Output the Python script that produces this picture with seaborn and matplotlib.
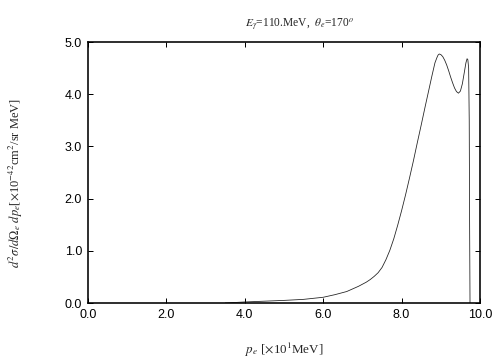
import matplotlib
matplotlib.use("Agg")
import matplotlib.pyplot as plt
import seaborn as sns

# electron momentum [x10 MeV] and cross section [1e-42 cm^2/sr MeV]
p_e = [3.5, 4.0, 4.5, 5.0, 5.5, 6.0, 6.3, 6.6, 6.9, 7.1, 7.2, 7.3, 7.4,
       7.5, 7.6, 7.7, 7.8, 7.9, 8.0, 8.1, 8.2, 8.3, 8.4, 8.5, 8.6, 8.7,
       8.77, 8.85, 8.9, 8.93, 8.96, 9.0, 9.05, 9.1, 9.15, 9.2, 9.25, 9.3,
       9.35, 9.4, 9.45, 9.5, 9.55, 9.6, 9.64, 9.67, 9.69, 9.71, 9.725,
       9.735, 9.745]
sigma = [0.0, 0.02, 0.035, 0.05, 0.07, 0.11, 0.16, 0.22, 0.32, 0.40, 0.45,
         0.51, 0.58, 0.68, 0.83, 1.01, 1.23, 1.49, 1.77, 2.07, 2.39, 2.72,
         3.07, 3.41, 3.76, 4.10, 4.34, 4.60, 4.70, 4.75, 4.77, 4.76, 4.72,
         4.65, 4.56, 4.45, 4.33, 4.22, 4.12, 4.05, 4.02, 4.06, 4.20, 4.42,
         4.60, 4.68, 4.66, 4.50, 3.5, 1.5, 0.0]

xticks = [0, 2, 4, 6, 8, 10]
yticks = [0, 1, 2, 3, 4, 5]

sns.set_theme(style="ticks")
plt.rcParams["font.family"] = ["Liberation Sans", "DejaVu Sans"]
plt.rcParams["mathtext.fontset"] = "stix"

fig = plt.figure(figsize=(7, 5), dpi=72)
ax = fig.add_axes([0.1746, 0.1583, 0.7778, 0.725])

sns.lineplot(x=p_e, y=sigma, ax=ax, color="#222222", linewidth=0.8)

ax.set_xlim(0, 10)
ax.set_ylim(0, 5)
ax.set_xticks(xticks)
ax.set_yticks(yticks)
ax.set_xticklabels([f"{v:.1f}" for v in xticks])
ax.set_yticklabels([f"{v:.1f}" for v in yticks])
ax.tick_params(direction="in", top=True, right=True, length=5, width=1,
               labelsize=12.5, colors="black", pad=6)
for s in ax.spines.values():
    s.set_linewidth(1.6)
    s.set_color("black")

serif = ["Liberation Serif", "DejaVu Serif"]
ax.set_title(r"$E_\gamma$=110.MeV,  $\theta_e$=170$^o$", fontsize=11.5,
             family=serif, x=0.54, pad=16)
ax.set_xlabel(r"$p_e$ [$\times$10$^1$MeV]", fontsize=13, family=serif,
              labelpad=20)
ax.set_ylabel(r"$d^2\sigma/d\Omega_e\ dp_e$[$\times$10$^{-42}$cm$^2$/sr MeV]",
              fontsize=12.5, family=serif)
ax.yaxis.set_label_coords(-0.16, 0.46)

fig.savefig("out.png", dpi=72)
